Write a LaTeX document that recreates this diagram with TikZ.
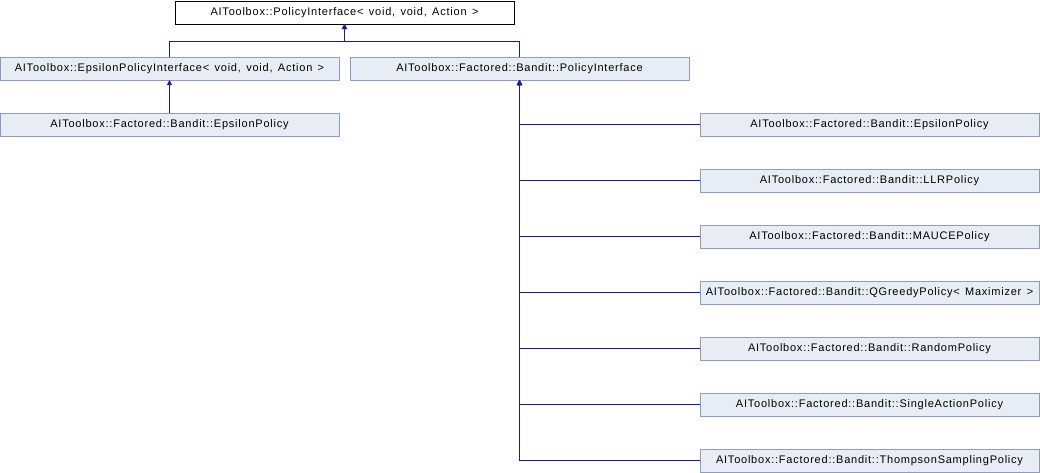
\documentclass[tikz,border=0pt]{standalone}
\usepackage{fontspec}
\setmainfont{Liberation Sans}[LetterSpace=7, WordSpace=1.4]
\usetikzlibrary{arrows.meta, positioning}
\definecolor{doxLine}{HTML}{1A1A9E}
\definecolor{doxFill}{HTML}{E8ECF5}
\definecolor{doxBorder}{HTML}{8C9CC4}
\tikzset{
  inh/.style={-{Triangle[length=5pt,width=5pt]}, doxLine, line width=1pt},
  baseBox/.style={rectangle, draw=black, fill=white, line width=1pt,
                  minimum width=339pt, minimum height=23pt, inner sep=0pt,
                  outer sep=0pt, font=\fontsize{11}{13}\selectfont},
  clsBox/.style={rectangle, draw=doxBorder, fill=doxFill, line width=1pt,
                 minimum width=339pt, minimum height=23pt, inner sep=0pt,
                 outer sep=0pt, font=\fontsize{11}{13}\selectfont},
}
\begin{document}
\begin{tikzpicture}[x=1pt, y=-1pt]
    \useasboundingbox (0,0) rectangle (1040,472);
    \node[baseBox] (pi) at (344.5,12.5) {AIToolbox::PolicyInterface< void, void, Action >};
    \node[clsBox] (epi) at (169.5,68.5) {AIToolbox::EpsilonPolicyInterface< void, void, Action >};
    \node[clsBox] (fpi) at (519.5,68.5) {AIToolbox::Factored::Bandit::PolicyInterface};
    \node[clsBox] (eps) at (169.5,124.5) {AIToolbox::Factored::Bandit::EpsilonPolicy};
    % factored bandit policies
    \node[clsBox] (feps) at (869.5,124.5) {AIToolbox::Factored::Bandit::EpsilonPolicy};
    \node[clsBox] (llr) at (869.5,180.5) {AIToolbox::Factored::Bandit::LLRPolicy};
    \node[clsBox] (mauce) at (869.5,236.5) {AIToolbox::Factored::Bandit::MAUCEPolicy};
    \node[clsBox] (qgreedy) at (869.5,292.5) {AIToolbox::Factored::Bandit::QGreedyPolicy< Maximizer >};
    \node[clsBox] (rand) at (869.5,348.5) {AIToolbox::Factored::Bandit::RandomPolicy};
    \node[clsBox] (single) at (869.5,404.5) {AIToolbox::Factored::Bandit::SingleActionPolicy};
    \node[clsBox] (thompson) at (869.5,460.5) {AIToolbox::Factored::Bandit::ThompsonSamplingPolicy};
    \draw[inh] (epi.north) -- ++(0,-16) -| (pi.south);
    \draw[inh] (fpi.north) -- ++(0,-16) -| (pi.south);
    \draw[inh] (eps) -- (epi);
    \foreach \c in {feps, llr, mauce, qgreedy, rand, single, thompson}
      \draw[inh] (\c.west) -| (fpi.south);
\end{tikzpicture}
\end{document}
